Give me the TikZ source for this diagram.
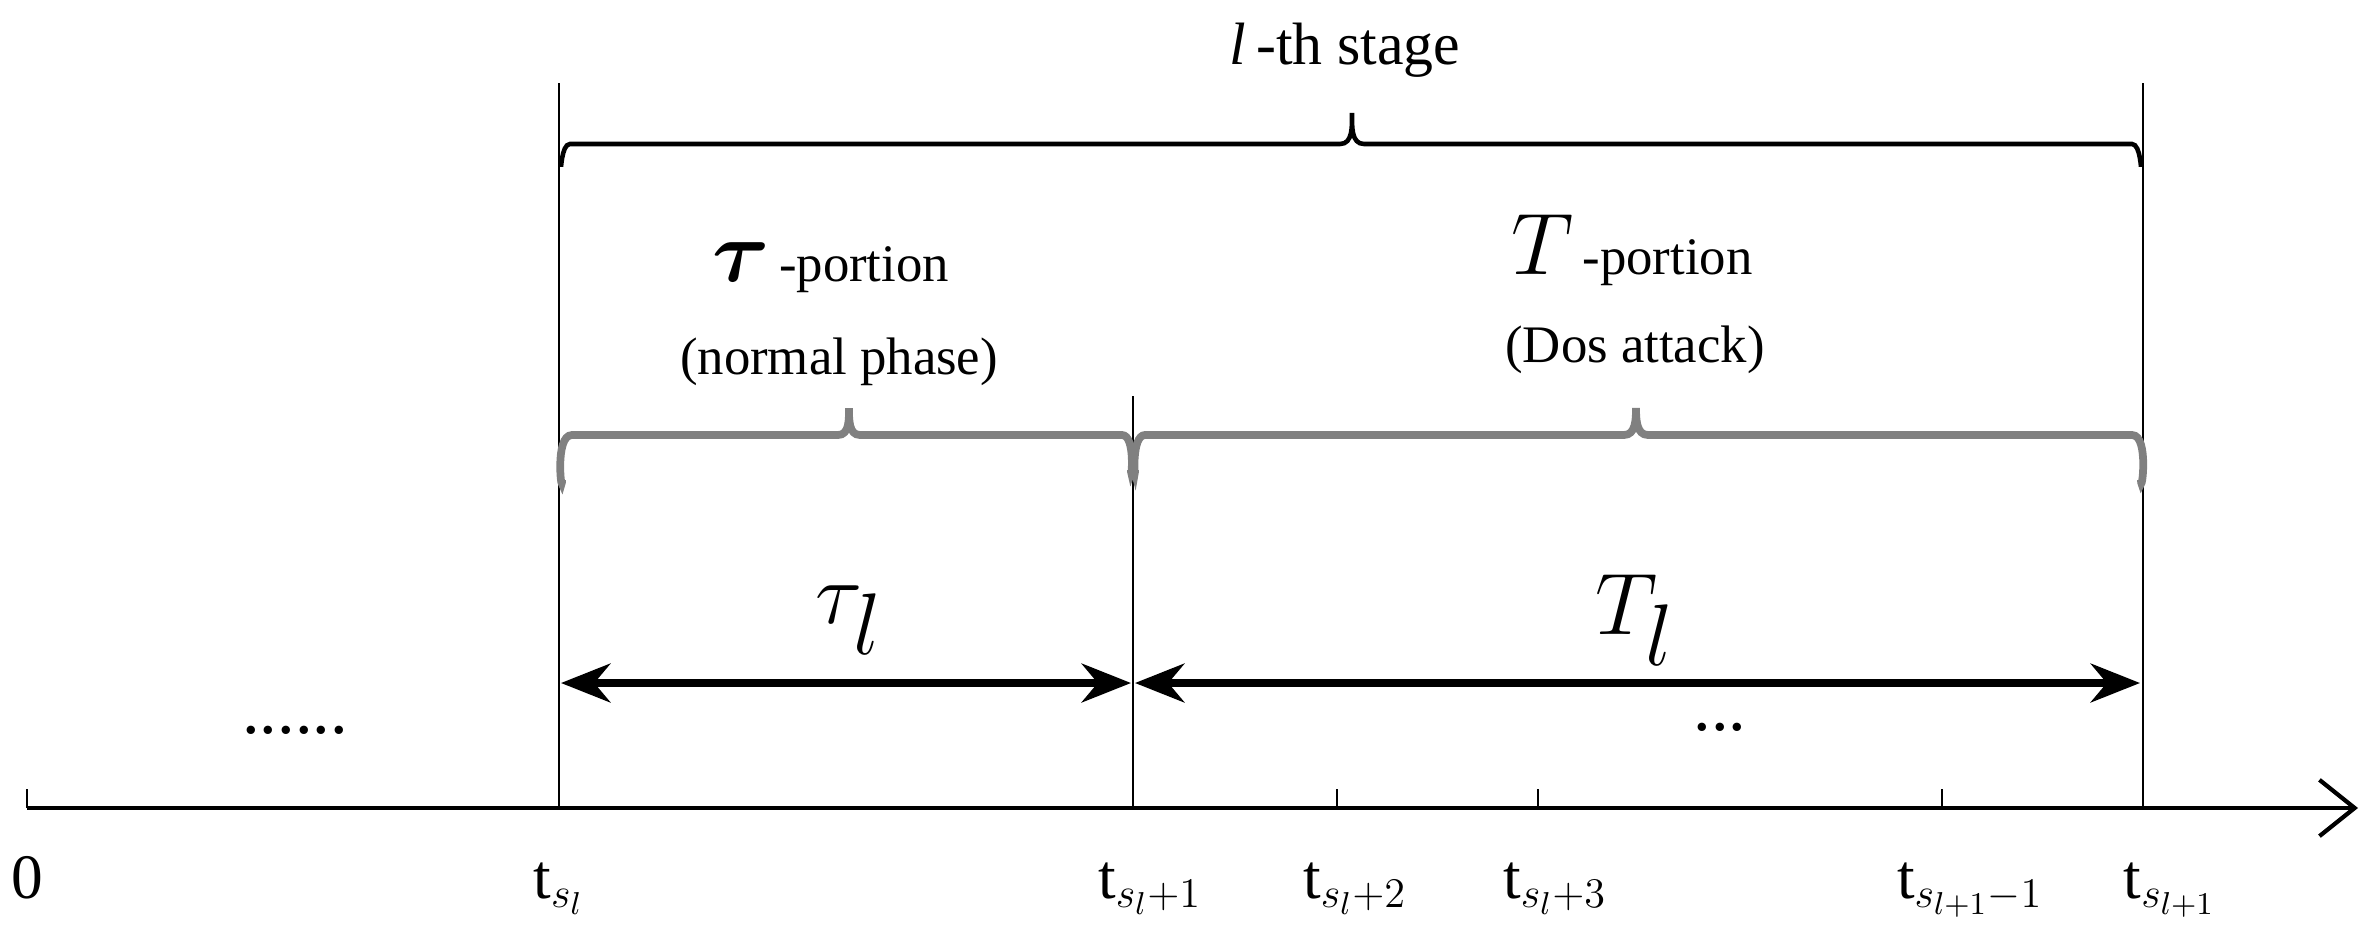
\documentclass[tikz,border=0pt]{standalone}
\usepackage{amsmath}
\usepackage{fontspec}
\setmainfont{Liberation Serif}
\usetikzlibrary{arrows.meta}
\begin{document}
\begin{tikzpicture}[x=0.01cm,y=-0.01cm,
  axisline/.style={line width=1.2pt},
  vline/.style={line width=0.8pt},
  tbrace/.style={line width=1.3pt},
  gbrace/.style={line width=2.2pt,draw=gray},
  dimarrow/.style={line width=2.2pt,{Stealth[length=14pt,width=11pt]}-{Stealth[length=14pt,width=11pt]}},
  tlabel/.style={font=\fontsize{18}{22}\selectfont,anchor=base},
  plabel/.style={font=\fontsize{15}{18}\selectfont}]
\useasboundingbox (0,0) rectangle (2370,933);
% axis
\coordinate (a0) at (27,808);
\coordinate (aend) at (2358,808);
\draw[axisline,-{Straight Barb[length=10pt,width=16pt]}] (a0) -- (aend);
\draw[vline] (27,789) -- (a0);
% structure lines
\coordinate (L) at (559,808); \coordinate (M) at (1133,808); \coordinate (R) at (2143,808);
\draw[vline] (559,83) -- (L);
\draw[vline] (2143,83) -- (R);
\draw[vline] (1133,396) -- (M);
\foreach \x in {1337,1538,1942} \draw[vline] (\x,789) -- (\x,808);
% top brace
\draw[tbrace] (561,165) to[out=-90,in=180] (570,144) -- (1340,144) to[out=0,in=-90] (1352,113)
  to[out=-90,in=180] (1364,144) -- (2132,144) to[out=0,in=-90] (2141,165);
% lower braces
\draw[gbrace] (562,480) to[out=-90,in=180] (572,435) -- (838,435) to[out=0,in=-90] (849,408)
  to[out=-90,in=180] (860,435) -- (1122,435) to[out=0,in=-90] (1131,470);
\draw[gbrace] (1135,470) to[out=-90,in=180] (1145,435) -- (1624,435) to[out=0,in=-90] (1636,408)
  to[out=-90,in=180] (1648,435) -- (2132,435) to[out=0,in=-90] (2141,480);
% arrows
\draw[dimarrow] (561,683) -- (1131,683);
\draw[dimarrow] (1135,683) -- (2140,683);
% labels
\node[font=\fontsize{17}{20}\selectfont] (stage) at (1345,50) {$\mathit{l}$\,-th stage};
\node[plabel] (tp) at (831,268) {{\fontsize{26}{28}\selectfont$\boldsymbol{\tau}$}\,-portion};
\node[plabel] (np) at (839,362) {(normal phase)};
\node[plabel] (Tp) at (1632,250) {{\fontsize{26}{28}\selectfont$T$}\,-portion};
\node[plabel] (da) at (1635,350) {(Dos attack)};
\node[font=\fontsize{40}{44}\selectfont] (taul) at (849,620) {$\tau_l$};
\node[font=\fontsize{40}{44}\selectfont] (Tl) at (1635,620) {$T_l$};
\node[font=\fontsize{20}{22}\selectfont] (d1) at (295,730) {......};
\node[font=\fontsize{20}{22}\selectfont] (d2) at (1720,727) {...};
\node[tlabel] (l0) at (27,898) {0};
\node[tlabel] (l1) at (559,898) {t$_{s_l}$};
\node[tlabel] (l2) at (1150,898) {t$_{s_l+1}$};
\node[tlabel] (l3) at (1355,898) {t$_{s_l+2}$};
\node[tlabel] (l4) at (1555,898) {t$_{s_l+3}$};
\node[tlabel] (l5) at (1970,898) {t$_{s_{l+1}-1}$};
\node[tlabel] (l6) at (2170,898) {t$_{s_{l+1}}$};
\end{tikzpicture}
\end{document}
